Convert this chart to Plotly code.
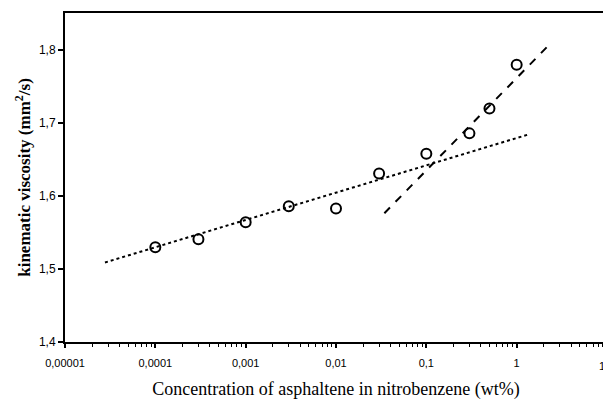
import plotly.graph_objects as go

# Measured data (concentration wt%, kinematic viscosity mm2/s)
conc = [0.0001, 0.0003, 0.001, 0.003, 0.01, 0.03, 0.1, 0.3, 0.5, 1.0]
visc = [1.530, 1.541, 1.564, 1.586, 1.583, 1.631, 1.658, 1.686, 1.720, 1.780]

# Fit lines (end points)
dotted_x = [0.0000277, 1.31]
dotted_y = [1.509, 1.684]
dashed_x = [0.0343, 2.40]
dashed_y = [1.5765, 1.810]

x_tickvals = [0.00001, 0.0001, 0.001, 0.01, 0.1, 1]
x_ticktext = ["0,00001", "0,0001", "0,001", "0,01", "0,1", "1"]
x_edge_label = "1"   # the cut-off "10" label at the right edge
y_tickvals = [1.4, 1.5, 1.6, 1.7, 1.8]
y_ticktext = ["1,4", "1,5", "1,6", "1,7", "1,8"]

minor_vals = [m * 10.0 ** k for k in range(-5, 1) for m in range(2, 10)]

fig = go.Figure()
fig.add_trace(go.Scatter(x=dotted_x, y=dotted_y, mode="lines",
                         line=dict(color="black", width=2, dash="dot"),
                         showlegend=False))
fig.add_trace(go.Scatter(x=dashed_x, y=dashed_y, mode="lines",
                         line=dict(color="black", width=2, dash="8px,8px"),
                         showlegend=False))
fig.add_trace(go.Scatter(x=conc, y=visc, mode="markers",
                         marker=dict(symbol="circle-open", size=10, color="black",
                                     line=dict(width=2, color="black")),
                         showlegend=False))

fig.add_annotation(text=x_edge_label, xref="paper", x=1, xanchor="right",
                   yref="paper", y=0, yanchor="top", yshift=-16, showarrow=False,
                   font=dict(size=11, family="Liberation Sans", color="black"))

fig.update_layout(
    width=603, height=394,
    margin=dict(l=57, r=4, t=5, b=60),
    paper_bgcolor="white", plot_bgcolor="white",
    font=dict(family="Liberation Sans", color="black"),
    xaxis=dict(type="log", range=[-5, 1], tickvals=x_tickvals, ticktext=x_ticktext,
               automargin=False, ticklabelstandoff=6,
               ticks="outside", ticklen=4, tickwidth=1.5, tickcolor="black",
               minor=dict(tickvals=minor_vals, ticks="outside", ticklen=3,
                          tickwidth=1, tickcolor="black"),
               showline=True, linecolor="black", linewidth=2, mirror=True,
               showgrid=False, zeroline=False,
               tickfont=dict(size=11, family="Liberation Sans"),
               title=dict(text="Concentration of asphaltene in nitrobenzene (wt%)",
                          font=dict(family="Liberation Serif", size=18), standoff=14)),
    yaxis=dict(range=[1.4, 1.851], tickvals=y_tickvals, ticktext=y_ticktext,
               automargin=False,
               ticks="outside", ticklen=5, tickwidth=1.5, tickcolor="black",
               showline=True, linecolor="black", linewidth=2, mirror=True,
               showgrid=False, zeroline=False,
               tickfont=dict(size=12, family="Liberation Sans"),
               title=dict(text="<b>kinematic viscosity (mm<sup>2</sup>/s)</b>",
                          font=dict(family="Liberation Serif", size=17), standoff=4)),
)

fig.write_html("out.html")
